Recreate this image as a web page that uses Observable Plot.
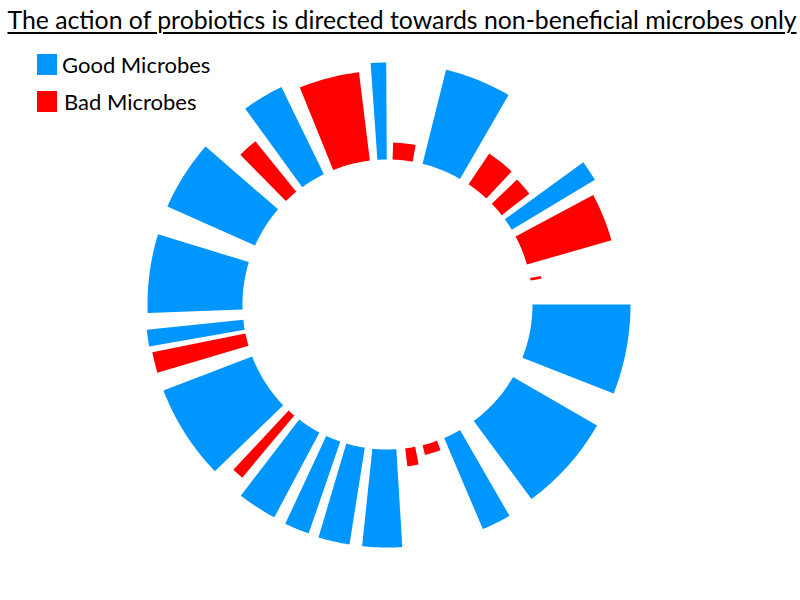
<!DOCTYPE html>
<html>
<head>
<meta charset="utf-8">
<script src="https://cdn.jsdelivr.net/npm/d3@7"></script>
<script src="https://cdn.jsdelivr.net/npm/@observablehq/plot@0.6"></script>
<style>
  html, body { margin: 0; padding: 0; background: #fff; }
  #wrap { position: relative; width: 800px; height: 600px; overflow: hidden; font-family: Lato, "Open Sans", sans-serif; }
  #title { position: absolute; left: 2px; top: 5px; width: 800px; text-align: center; font-size: 24.8px; text-decoration: underline; text-decoration-thickness: 1.5px; text-underline-offset: 3px; color: #000; white-space: nowrap; }
  .leg { position: absolute; left: 37px; display: flex; align-items: center; font-size: 22px; color: #000; }
  .sw { width: 20px; height: 21px; margin-right: 5px; }
  #chart { position: absolute; left: 0; top: 0; }
</style>
</head>
<body>
<div id="wrap">
  <div id="chart"></div>
  <div id="title">The action of probiotics is directed towards non-beneficial microbes only</div>
  <div class="leg" style="top:51px"><div class="sw" style="background:#0096FF"></div>Good Microbes</div>
  <div class="leg" style="top:88px"><div class="sw" style="background:#FF0000"></div><span style="margin-left:2px">Bad Microbes</span></div>
</div>
<script>
// Segments, clockwise from top (degrees), outer radius (px units), and type
const segStart  = [-4, 2, 14, 34, 46, 54, 62, 79.5, 90, 120, 150, 160, 169, 176.5, 189, 199, 208, 220, 226, 253.5, 260, 268, 294, 315.5, 324, 338];
const segEnd    = [-0.3, 10, 30, 43, 52, 59, 74, 80.5, 111.5, 143.5, 157, 166, 173, 186, 196.5, 205, 217.5, 223, 249, 258.5, 264, 287, 311, 321, 334, 353];
const segOuter  = [242, 162, 242, 182, 180, 242, 233, 156, 243, 242, 244, 155, 163, 243, 243, 242, 241, 226, 240, 240, 242, 240, 241, 210, 242, 234];
const segType   = ["Good","Bad","Good","Bad","Bad","Good","Bad","Bad","Good","Good","Good","Bad","Bad","Good","Good","Good","Good","Bad","Good","Bad","Good","Good","Good","Bad","Good","Bad"];
const innerRadius = 145;
const types = ["Good", "Bad"];
const colors = ["#0096FF", "#FF0000"];

const pts = [];
segStart.forEach((s, i) => {
  const e = segEnd[i], R = segOuter[i];
  const n = Math.max(2, Math.ceil(e - s) + 1);
  const outer = [], inner = [];
  for (let k = 0; k < n; k++) {
    const a = (s + (e - s) * k / (n - 1)) * Math.PI / 180;
    outer.push({a, r: R});
    inner.push({a, r: innerRadius});
  }
  for (const p of outer.concat(inner.reverse())) {
    pts.push({id: i, type: segType[i], x: p.r * Math.sin(p.a), y: -p.r * Math.cos(p.a)});
  }
});

const plot = Plot.plot({
  width: 800,
  height: 600,
  margin: 0,
  x: {domain: [-387, 413], range: [0, 800], axis: null},
  y: {domain: [-304, 296], range: [0, 600], axis: null},
  color: {domain: types, range: colors},
  marks: [
    Plot.line(pts, {x: "x", y: "y", z: "id", fill: "type", stroke: "none", curve: "linear-closed"})
  ]
});
document.getElementById("chart").appendChild(plot);
</script>
</body>
</html>
